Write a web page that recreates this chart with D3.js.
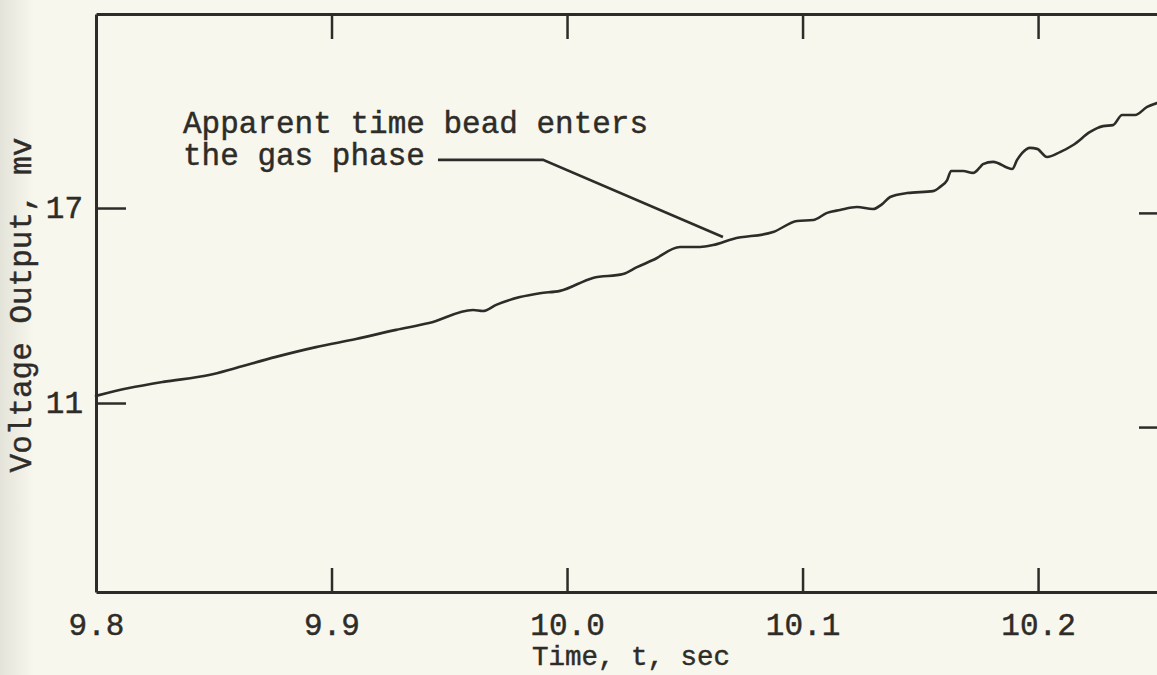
<!DOCTYPE html>
<html>
<head>
<meta charset="utf-8">
<script src="https://cdn.jsdelivr.net/npm/d3@7"></script>
<style>
  html, body { margin: 0; padding: 0; background: #f8f7ee; }
  svg { display: block; }
  text { font-family: "Liberation Mono", "Courier New", monospace; fill: #2e2c28; stroke: #2e2c28; stroke-width: 0.45px; }
</style>
</head>
<body>
<svg id="chart" width="1157" height="675"></svg>
<script>
// ---- data ----
const timeValues = [
  9.8000, 9.8140, 9.8285, 9.8480, 9.8594, 9.8764, 9.8934, 9.9104, 9.9274, 9.9414,
  9.9601, 9.9643, 9.9699, 9.9800, 9.9885, 9.9970, 10.0110, 10.0238, 10.0297, 10.0365,
  10.0480, 10.0565, 10.0620, 10.0705, 10.0875, 10.0977, 10.1045, 10.1104, 10.1159, 10.1231,
  10.1299, 10.1338, 10.1372, 10.1444, 10.1554, 10.1584, 10.1614, 10.1631, 10.1682, 10.1724,
  10.1754, 10.1766, 10.1809, 10.1890, 10.1911, 10.1932, 10.1966, 10.1996, 10.2038, 10.2093,
  10.2149, 10.2221, 10.2251, 10.2276, 10.2318, 10.2357, 10.2412, 10.2463, 10.2505
];
const voltageValues = [
  11.22, 11.46, 11.65, 11.86, 12.08, 12.42, 12.72, 12.97, 13.25, 13.46,
  13.86, 13.83, 14.02, 14.26, 14.38, 14.45, 14.85, 14.97, 15.18, 15.40,
  15.80, 15.80, 15.86, 16.05, 16.26, 16.60, 16.63, 16.85, 16.94, 17.03,
  16.97, 17.12, 17.34, 17.46, 17.52, 17.65, 17.86, 18.14, 18.14, 18.08,
  18.26, 18.35, 18.42, 18.20, 18.48, 18.69, 18.85, 18.82, 18.57, 18.72,
  18.94, 19.34, 19.46, 19.52, 19.55, 19.86, 19.86, 20.11, 20.23
];
const xTickValues = [9.8, 9.9, 10.0, 10.1, 10.2];
const xTickLabels = ["9.8", "9.9", "10.0", "10.1", "10.2"];
const topTickValues = [9.9, 10.0, 10.1, 10.2];
const yTickValues = [17, 11];
const yTickLabels = ["17", "11"];
const rightTickValues = [16.85, 10.26];
const leaderTime = [9.9452, 9.9898, 10.0662];
const leaderVoltage = [18.48, 18.48, 16.11];
const annotationLines = ["Apparent time bead enters", "the gas phase"];
const xTitle = "Time, t, sec";
const yTitle = "Voltage Output, mv";

// ---- layout ----
const W = 1157, H = 675;
const plotLeft = 96, plotRight = 1157, plotTop = 14, plotBottom = 592;
const ink = "#2e2c28";

const svg = d3.select("#chart");

// paper background with slightly shaded left margin (scan)
const defs = svg.append("defs");
const grad = defs.append("linearGradient").attr("id", "edge").attr("x1", 0).attr("x2", 1);
grad.append("stop").attr("offset", "0").attr("stop-color", "#e4e3d9");
grad.append("stop").attr("offset", "1").attr("stop-color", "#f8f7ee");
svg.append("rect").attr("width", W).attr("height", H).attr("fill", "#f8f7ee");
svg.append("rect").attr("width", 34).attr("height", H).attr("fill", "url(#edge)");

const x = d3.scaleLinear().domain([9.8, 10.2505]).range([plotLeft, plotRight]);
const y = d3.scaleLinear().domain([5.185, 22.97]).range([plotBottom, plotTop]);

function styleAxis(g) {
  g.selectAll("path.domain").attr("stroke", ink).attr("stroke-width", 3);
  g.selectAll(".tick line").attr("stroke", ink).attr("stroke-width", 2.5);
  g.selectAll(".tick text")
    .style("font-family", '"Liberation Mono", "Courier New", monospace')
    .attr("fill", ink).attr("font-size", 31);
}

// bottom axis
const xAxis = d3.axisBottom(x).tickValues(xTickValues)
  .tickFormat((d, i) => xTickLabels[i]).tickSizeInner(-24).tickSizeOuter(0).tickPadding(21);
svg.append("g").attr("transform", `translate(0,${plotBottom})`).call(xAxis).call(styleAxis)
  .call(g => g.selectAll(".tick").filter(d => d === 9.8).select("line").remove());

// top axis
const topAxis = d3.axisTop(x).tickValues(topTickValues).tickFormat("")
  .tickSizeInner(-25).tickSizeOuter(0);
svg.append("g").attr("transform", `translate(0,${plotTop})`).call(topAxis).call(styleAxis);

// left axis
const yAxis = d3.axisLeft(y).tickValues(yTickValues)
  .tickFormat((d, i) => yTickLabels[i]).tickSizeInner(-30).tickSizeOuter(0).tickPadding(13);
svg.append("g").attr("transform", `translate(${plotLeft},0)`).call(yAxis).call(styleAxis);

// right side ticks (frame border lies just beyond the picture)
const rightAxis = d3.axisRight(y).tickValues(rightTickValues).tickFormat("")
  .tickSizeInner(-21).tickSizeOuter(0);
svg.append("g").attr("transform", `translate(${plotRight + 3},0)`).call(rightAxis).call(styleAxis)
  .call(g => g.select("path.domain").remove());

// data curve
const pts = timeValues.map((t, i) => [t, voltageValues[i]]);
const line = d3.line().x(d => x(d[0])).y(d => y(d[1])).curve(d3.curveMonotoneX);
svg.append("path").datum(pts).attr("d", line)
  .attr("fill", "none").attr("stroke", ink).attr("stroke-width", 2.6)
  .attr("stroke-linejoin", "round").attr("stroke-linecap", "round");

// annotation leader
const leader = leaderTime.map((t, i) => [t, leaderVoltage[i]]);
svg.append("path").datum(leader).attr("d", d3.line().x(d => x(d[0])).y(d => y(d[1])))
  .attr("fill", "none").attr("stroke", ink).attr("stroke-width", 2.6);

// annotation text
const ann = svg.append("text").attr("x", 183).attr("y", 133).attr("font-size", 31);
annotationLines.forEach((s, i) => {
  ann.append("tspan").attr("x", 183).attr("y", 133 + i * 32).text(s);
});

// axis titles
svg.append("text").attr("x", 631).attr("y", 665).attr("text-anchor", "middle")
  .attr("font-size", 27.5).text(xTitle);
svg.append("text").attr("transform", "translate(31,305) rotate(-90)")
  .attr("text-anchor", "middle").attr("font-size", 31).text(yTitle);
</script>
</body>
</html>
